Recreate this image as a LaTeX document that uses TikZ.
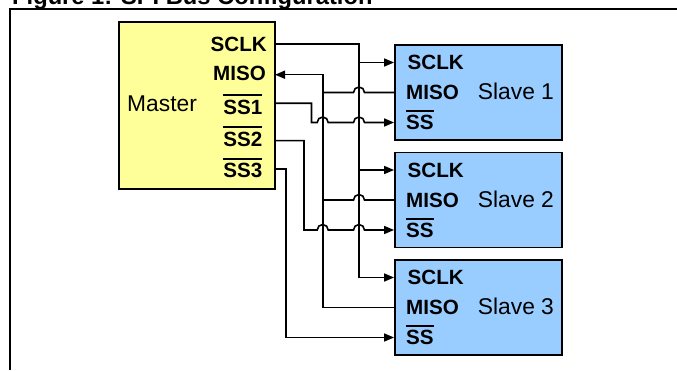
\documentclass[tikz,border=0pt]{standalone}
\usepackage{fontspec}
\setmainfont{Liberation Sans}
\usepackage{xcolor}
\usetikzlibrary{arrows.meta,calc}
\definecolor{masteryellow}{HTML}{FFFF99}
\definecolor{slaveblue}{HTML}{99CCFF}
\def\hop{5.5}
\newcommand{\ovl}[1]{\vbox{\hrule height 1.8pt\kern 3.5pt\hbox{#1}}}

\begin{document}
\begin{tikzpicture}[x=1pt,y=1pt,
    chip/.style={draw=black,line width=1.8pt,inner sep=0pt},
    pinlabel/.style={font=\fontsize{20.6}{24}\selectfont\bfseries,inner sep=0pt},
    chiplabel/.style={font=\fontsize{22.8}{27}\selectfont,inner sep=0pt,anchor=base west},
    wire/.style={line width=1.6pt},
    sig/.style={wire,-{Triangle[length=10pt,width=8pt]}}]
    \useasboundingbox (0,0) rectangle (677,370);
    \clip (0,0) rectangle (677,370);
    \node[font=\fontsize{23.7}{28}\selectfont\bfseries,inner sep=0pt,anchor=base west] (title) at (12,365.5) {Figure 1: SPI Bus Configuration};
    \draw[line width=2pt] (10,0) -- (10,360.5) -- (677,360.5);
    \node[chip,fill=masteryellow,minimum width=156pt,minimum height=167pt] (master) at (197,264.5) {};
    \node[chiplabel] (mastername) at (127,258.5) {Master};
    \node[pinlabel,anchor=base east] (l-sclk) at (267,318.6) {SCLK};
    \node[pinlabel,anchor=base east] (l-miso) at (266,289.3) {MISO};
    \node[pinlabel,anchor=base east] (l-ss1) at (262.5,255.9) {\ovl{SS1}};
    \node[pinlabel,anchor=base east] (l-ss2) at (262.5,223.9) {\ovl{SS2}};
    \node[pinlabel,anchor=base east] (l-ss3) at (262.5,192.6) {\ovl{SS3}};
    \coordinate (m-sclk) at (275,326);
    \coordinate (m-miso) at (275,295.3);
    \coordinate (m-ss1) at (275,266.7);
    \coordinate (m-ss2) at (275,229.3);
    \coordinate (m-ss3) at (275,200.7);
    \foreach \i/\y in {1/277.5,2/170,3/62.5} {
      \node[chip,fill=slaveblue,minimum width=167pt,minimum height=95pt] (s\i) at (478.5,\y) {};
      \node[pinlabel,anchor=base west] (s\i-l-sclk) at (407.5,\y+22.6) {SCLK};
      \node[pinlabel,anchor=base west] (s\i-l-miso) at (406,\y-7.4) {MISO};
      \node[pinlabel,anchor=base west] (s\i-l-ss) at (406,\y-37.4) {\ovl{SS}};
      \node[chiplabel] (s\i-name) at (477.7,\y-7) {Slave \i};
      \coordinate (s\i-sclk) at ($(s\i.west)+(0,30)$);
      \coordinate (s\i-miso) at (s\i.west);
      \coordinate (s\i-ss) at ($(s\i.west)+(0,-30)$);
    }
    \coordinate (bsclk) at (359,0);
    \coordinate (bmiso) at (322.7,0);
    \coordinate (bss1) at (311.5,0);
    \coordinate (bss2) at (304,0);
    \coordinate (bss3) at (286,0);
    \draw[wire] (m-sclk) -| (bsclk |- s3-sclk);
    \foreach \i in {1,2,3}
      \draw[sig] (bsclk |- s\i-sclk) -- (s\i-sclk);
    \draw[sig] (bmiso |- s3-miso) |- (m-miso);
    \foreach \i in {1,2}
      \draw[wire] (s\i-miso) -- ($(bsclk |- s\i-miso)+(\hop,0)$) arc[start angle=0,end angle=180,radius=\hop] -- (bmiso |- s\i-miso);
    \draw[wire] (s3-miso) -- (bmiso |- s3-miso);
    \foreach \i in {1,2}
      \draw[sig] (m-ss\i) -| (bss\i |- s\i-ss) -- ($(bmiso |- s\i-ss)-(\hop,0)$) arc[start angle=180,end angle=0,radius=\hop]
        -- ($(bsclk |- s\i-ss)-(\hop,0)$) arc[start angle=180,end angle=0,radius=\hop] -- (s\i-ss);
    \draw[sig] (m-ss3) -| (bss3 |- s3-ss) -- (s3-ss);
\end{tikzpicture}
\end{document}
